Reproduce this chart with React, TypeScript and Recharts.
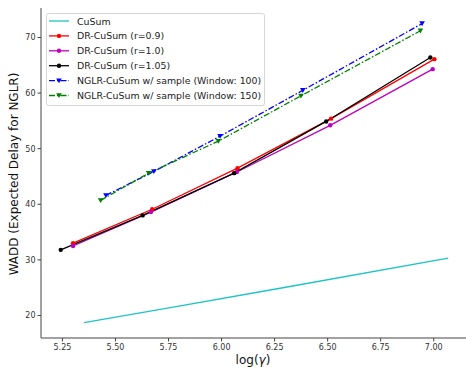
import React from 'react';
import { LineChart, Line, XAxis, YAxis, Legend, Label } from 'recharts';

// x = log(gamma), y = WADD
const cusumX = [5.352, 5.772, 6.276, 7.068];
const cusumY = [18.7, 21.5, 24.9, 30.3];

const dr09X = [5.3, 5.673, 6.075, 6.516, 7.003];
const dr09Y = [33.0, 39.1, 46.5, 55.4, 66.1];

const dr10X = [5.3, 5.667, 6.072, 6.512, 6.995];
const dr10Y = [32.5, 38.6, 45.8, 54.2, 64.3];

const dr105X = [5.242, 5.628, 6.059, 6.493, 6.984];
const dr105Y = [31.8, 38.0, 45.6, 54.9, 66.4];

const nglr100X = [5.455, 5.681, 5.993, 6.383, 6.945];
const nglr100Y = [41.6, 45.9, 52.25, 60.5, 72.5];

const nglr150X = [5.43, 5.656, 5.985, 6.374, 6.937];
const nglr150Y = [40.7, 45.6, 51.35, 59.5, 71.2];

const xTicks = [5.25, 5.5, 5.75, 6.0, 6.25, 6.5, 6.75, 7.0];
const yTicks = [20, 30, 40, 50, 60, 70];

const toPoints = (xs: number[], ys: number[]) => xs.map((x, i) => ({ x, y: ys[i] }));

type Marker = 'none' | 'dot' | 'tri';

interface SeriesDef {
  name: string;
  color: string;
  dash?: string;
  marker: Marker;
  data: { x: number; y: number }[];
}

const series: SeriesDef[] = [
  { name: 'CuSum', color: '#1cc4c4', marker: 'none', data: toPoints(cusumX, cusumY) },
  { name: 'DR-CuSum (r=0.9)', color: '#ff0000', marker: 'dot', data: toPoints(dr09X, dr09Y) },
  { name: 'DR-CuSum (r=1.0)', color: '#bf00bf', marker: 'dot', data: toPoints(dr10X, dr10Y) },
  { name: 'DR-CuSum (r=1.05)', color: '#000000', marker: 'dot', data: toPoints(dr105X, dr105Y) },
  { name: 'NGLR-CuSum w/ sample (Window: 100)', color: '#0000ff', dash: '6 2 1.5 2', marker: 'tri', data: toPoints(nglr100X, nglr100Y) },
  { name: 'NGLR-CuSum w/ sample (Window: 150)', color: '#008000', dash: '6 2 1.5 2', marker: 'tri', data: toPoints(nglr150X, nglr150Y) },
];

const drawMarker = (marker: Marker, color: string, cx: number, cy: number, key?: string | number) => {
  if (marker === 'dot') return <circle key={key} cx={cx} cy={cy} r={2.2} fill={color} />;
  if (marker === 'tri')
    return (
      <polygon
        key={key}
        points={`${cx - 2.8},${cy - 2.2} ${cx + 2.8},${cy - 2.2} ${cx},${cy + 2.6}`}
        fill={color}
      />
    );
  return null;
};

const LegendBox = () => (
  <svg width={220} height={94} style={{ display: 'block' }}>
    <rect x={0.5} y={0.5} width={218} height={92} rx={2} fill="#fff" fillOpacity={0.8} stroke="#d6d6d6" />
    {series.map((s, i) => {
      const cy = 8 + i * 14.9;
      return (
        <g key={s.name}>
          <line x1={3} x2={23} y1={cy} y2={cy} stroke={s.color} strokeWidth={1.3} strokeDasharray={s.dash} />
          {drawMarker(s.marker, s.color, 13, cy)}
          <text x={31} y={cy} dominantBaseline="central" fontSize={9.4} fill="#222">
            {s.name}
          </text>
        </g>
      );
    })}
  </svg>
);

const tickStyle = { fontSize: 8, fill: '#333' };

export default function App() {
  return (
    <div style={{ position: 'absolute', left: 0, top: 0, fontFamily: 'DejaVu Sans', background: '#fff' }}>
      <LineChart width={466} height={369} margin={{ top: 8, right: 0, left: 0, bottom: 0 }}>
        <XAxis
          dataKey="x"
          type="number"
          domain={[5.149, 7.152]}
          ticks={xTicks}
          tickFormatter={(v: number) => v.toFixed(2)}
          tick={tickStyle}
          tickSize={3.5}
          tickMargin={3}
          stroke="#444"
          height={31}
          interval={0}
        >
          <Label
            content={() => (
              <text x={253} y={360} textAnchor="middle" dominantBaseline="central" fontSize={12} fill="#111">
                log(<tspan fontStyle="italic">γ</tspan>)
              </text>
            )}
          />
        </XAxis>
        <XAxis xAxisId="top" orientation="top" type="number" domain={[5.149, 7.152]} tick={false} tickLine={false} height={0} stroke="#444" />
        <YAxis
          type="number"
          domain={[15.95, 75.3]}
          ticks={yTicks}
          tick={tickStyle}
          tickSize={3.5}
          tickMargin={2}
          stroke="#444"
          width={41}
          interval={0}
        >
          <Label
            content={() => (
              <text
                transform="translate(14,174) rotate(-90)"
                textAnchor="middle"
                dominantBaseline="central"
                fontSize={12}
                fill="#111"
              >
                WADD (Expected Delay for NGLR)
              </text>
            )}
          />
        </YAxis>
        <Legend
          layout="vertical"
          align="center"
          verticalAlign="middle"
          content={() => <LegendBox />}
          wrapperStyle={{ position: 'absolute', left: 46, top: 13, width: 220, height: 94 }}
        />
        {series.map((s) => (
          <Line
            key={s.name}
            name={s.name}
            data={s.data}
            dataKey="y"
            type="linear"
            stroke={s.color}
            strokeWidth={1.3}
            strokeDasharray={s.dash}
            dot={s.marker === 'none' ? false : (p: any) => drawMarker(s.marker, s.color, p.cx, p.cy, p.index)}
            activeDot={false}
            isAnimationActive={false}
          />
        ))}
      </LineChart>
    </div>
  );
}
